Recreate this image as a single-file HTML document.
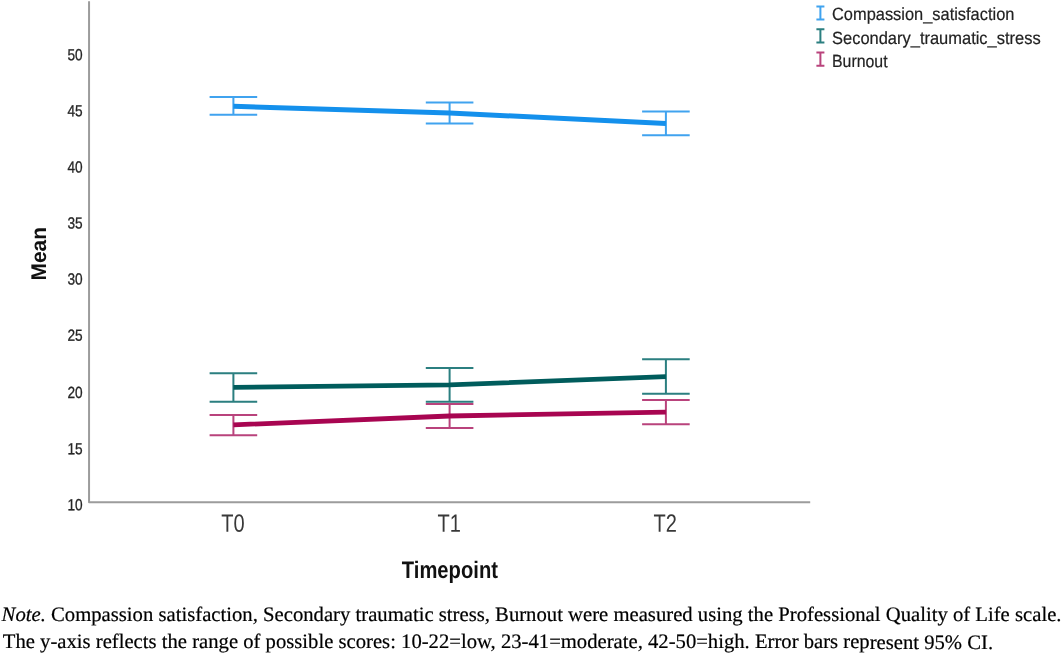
<!DOCTYPE html>
<html><head><meta charset="utf-8"><title>Chart</title>
<style>
html,body{margin:0;padding:0;background:#fff;}
svg{display:block;will-change:transform;}
text{font-family:"Liberation Sans",sans-serif;text-rendering:geometricPrecision;}
.serif{font-family:"Liberation Serif",serif;}
</style></head>
<body>
<svg width="1063" height="655" viewBox="0 0 1063 655">
<rect width="1063" height="655" fill="#fff"/>
<!-- axes -->
<path d="M89.05 1.2V502.2H810.2" stroke="#9c9c9c" stroke-width="2" fill="none" stroke-linejoin="round"/>
<!-- y tick labels -->
<g font-size="16.1" fill="#262626" stroke="#262626" stroke-width="0.3">
<text transform="translate(67.4,60.2) skewY(0.08)" textLength="15.2" lengthAdjust="spacingAndGlyphs">50</text>
<text transform="translate(67.4,116.3) skewY(0.08)" textLength="15.2" lengthAdjust="spacingAndGlyphs">45</text>
<text transform="translate(67.4,172.45) skewY(0.08)" textLength="15.2" lengthAdjust="spacingAndGlyphs">40</text>
<text transform="translate(67.4,228.6) skewY(0.08)" textLength="15.2" lengthAdjust="spacingAndGlyphs">35</text>
<text transform="translate(67.4,284.6) skewY(0.08)" textLength="15.2" lengthAdjust="spacingAndGlyphs">30</text>
<text transform="translate(67.4,340.7) skewY(0.08)" textLength="15.2" lengthAdjust="spacingAndGlyphs">25</text>
<text transform="translate(67.4,397.9) skewY(0.08)" textLength="15.2" lengthAdjust="spacingAndGlyphs">20</text>
<text transform="translate(67.4,454.3) skewY(0.08)" textLength="15.2" lengthAdjust="spacingAndGlyphs">15</text>
<text transform="translate(67.4,510.3) skewY(0.08)" textLength="15.2" lengthAdjust="spacingAndGlyphs">10</text>
</g>
<!-- x tick labels -->
<g font-size="25" fill="#383838">
<text transform="translate(221.3,531.7) skewY(0.08)" textLength="23.4" lengthAdjust="spacingAndGlyphs">T0</text>
<text transform="translate(437.5,531.7) skewY(0.08)" textLength="23.4" lengthAdjust="spacingAndGlyphs">T1</text>
<text transform="translate(653.5,531.7) skewY(0.08)" textLength="23.4" lengthAdjust="spacingAndGlyphs">T2</text>
</g>
<!-- axis titles -->
<text transform="translate(401.8,577.9) skewY(0.05)" font-size="24" font-weight="bold" fill="#111" textLength="96.2" lengthAdjust="spacingAndGlyphs">Timepoint</text>
<text transform="translate(46.2,280.5) rotate(-90)" font-size="21.3" font-weight="bold" fill="#111" textLength="53.4" lengthAdjust="spacingAndGlyphs">Mean</text>
<!-- series -->
<path d="M209.6 96.9H257.2M209.6 114.8H257.2M233.4 96.9V114.8" stroke="#40A3EF" stroke-width="2" fill="none"/>
<path d="M425.8 102.6H473.4M425.8 123.5H473.4M449.6 102.6V123.5" stroke="#40A3EF" stroke-width="2" fill="none"/>
<path d="M642.1 111.5H689.7M642.1 135.3H689.7M665.9 111.5V135.3" stroke="#40A3EF" stroke-width="2" fill="none"/>
<polyline points="233.4,106.35 449.6,113.05 665.9,123.45" stroke="#1490EC" stroke-width="5.0" fill="none" stroke-linejoin="round"/>
<path d="M209.6 373.3H257.2M209.6 401.8H257.2M233.4 373.3V401.8" stroke="#2B7F80" stroke-width="2" fill="none"/>
<path d="M425.8 368.0H473.4M425.8 401.8H473.4M449.6 368.0V401.8" stroke="#2B7F80" stroke-width="2" fill="none"/>
<path d="M642.1 359.2H689.7M642.1 393.7H689.7M665.9 359.2V393.7" stroke="#2B7F80" stroke-width="2" fill="none"/>
<polyline points="233.4,387.3 449.6,384.8 665.9,376.7" stroke="#005C5C" stroke-width="4.8" fill="none" stroke-linejoin="round"/>
<path d="M209.6 414.9H257.2M209.6 435.2H257.2M233.4 414.9V435.2" stroke="#B9437C" stroke-width="2" fill="none"/>
<path d="M425.8 404.0H473.4M425.8 428.1H473.4M449.6 404.0V428.1" stroke="#B9437C" stroke-width="2" fill="none"/>
<path d="M642.1 400.0H689.7M642.1 424.2H689.7M665.9 400.0V424.2" stroke="#B9437C" stroke-width="2" fill="none"/>
<polyline points="233.4,424.9 449.6,416.0 665.9,412.2" stroke="#A80551" stroke-width="4.8" fill="none" stroke-linejoin="round"/>
<!-- legend -->
<path d="M816.4 6.6H824.4M816.4 19.6H824.4M820.4 6.6V19.6" stroke="#40A3EF" stroke-width="2" fill="none"/>
<path d="M816.4 29.2H824.4M816.4 42.4H824.4M820.4 29.2V42.4" stroke="#2B7F80" stroke-width="2" fill="none"/>
<path d="M816.4 52.5H824.4M816.4 65.7H824.4M820.4 52.5V65.7" stroke="#B9437C" stroke-width="2" fill="none"/>
<g font-size="17.7" fill="#222" stroke="#222" stroke-width="0.2">
<text transform="translate(832.0,20.3) skewY(0.03)" textLength="182.4" lengthAdjust="spacingAndGlyphs">Compassion_satisfaction</text>
<text transform="translate(832.0,44.2) skewY(0.03)" textLength="208.7" lengthAdjust="spacingAndGlyphs">Secondary_traumatic_stress</text>
<text transform="translate(832.0,67.1) skewY(0.05)" textLength="55.6" lengthAdjust="spacingAndGlyphs">Burnout</text>
</g>
<!-- note -->
<g class="serif" font-size="20.5" fill="#000" stroke="#000" stroke-width="0.2">
<text class="serif" transform="translate(1.6,620.5) skewY(0.01)" textLength="1059.9" lengthAdjust="spacingAndGlyphs"><tspan font-style="italic">Note.</tspan> Compassion satisfaction, Secondary traumatic stress, Burnout were measured using the Professional Quality of Life scale.</text>
<text class="serif" transform="translate(2.8,648.35) skewY(0.01)" textLength="990.3" lengthAdjust="spacingAndGlyphs">The y-axis reflects the range of possible scores: 10-22=low, 23-41=moderate, 42-50=high. Error bars represent 95% CI.</text>
</g>
</svg>
</body></html>
